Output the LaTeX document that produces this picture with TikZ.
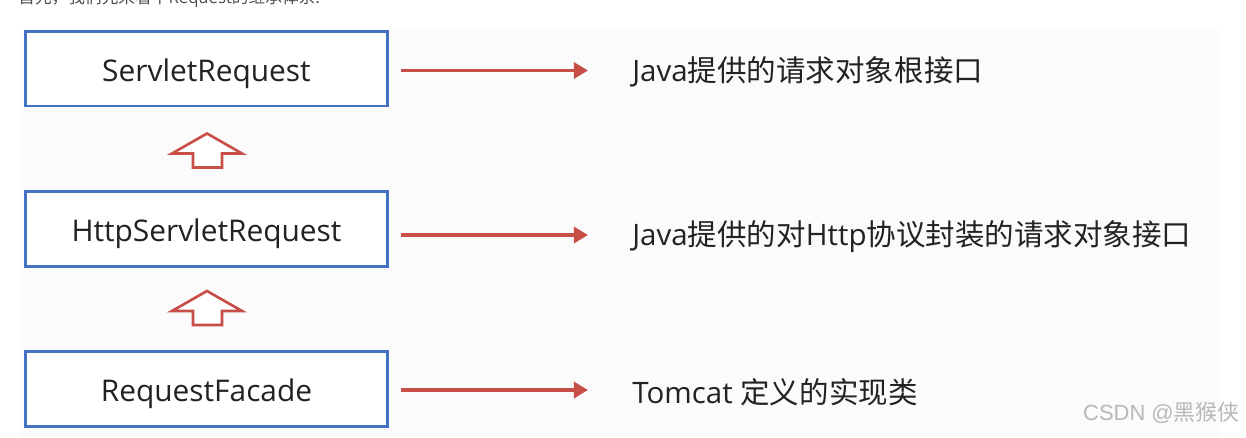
\documentclass[tikz,border=0pt]{standalone}
\usepackage{fontspec}
\setmainfont{Open Sans}
\newfontfamily\cjk{Noto Sans CJK SC}
\newfontfamily\markfont{Liberation Sans}
\usetikzlibrary{positioning,calc,arrows.meta}

\definecolor{boxblue}{RGB}{68,114,196}
\definecolor{arrred}{RGB}{200,78,72}
\definecolor{txtgray}{RGB}{34,34,34}

\tikzset{
  classbox/.style={draw=boxblue, line width=1.7pt, fill=white, minimum width=7.26cm, minimum height=1.5cm,
    text height=0.64cm, text depth=0.13cm, text=txtgray, font=\fontsize{17pt}{19pt}\selectfont},
  desc/.style={anchor=west, inner sep=0pt, text=txtgray, font=\fontsize{16.8pt}{19pt}\selectfont},
  redarrow/.style={draw=arrred, line width=2pt, -{Triangle[length=8pt,width=9pt]}},
  hollow/.style={draw=arrred, line width=1.5pt, fill=white, line join=miter}
}

\begin{document}
\begin{tikzpicture}[x=0.02cm,y=-0.02cm]
  \useasboundingbox (0,0) rectangle (1246,437);
  % background
  \fill[black!1.5] (20,29) rectangle (1220,437);
  % cut caption line
  \begin{scope}
    \clip (0,0) rectangle (1246,11);
    \node[anchor=base west, inner sep=0pt, text=black!70, font=\fontsize{9.5pt}{11pt}\selectfont] (caption) at (18,3)
      {\cjk 首先，我们先来看下\rmfamily Request\cjk 的继承体系:};
  \end{scope}

  % classes
  \node[classbox] (servlet) at (206.5,68.5) {ServletRequest};
  \node[classbox] (http) at (206.5,229) {HttpServletRequest};
  \node[classbox] (facade) at (206.5,389) {RequestFacade};

  % descriptions
  \node[desc] (d1) at (632,72) {Java\cjk 提供的请求对象根接口};
  \node[desc] (d2) at (632,237) {Java\cjk 提供的对\rmfamily Http\cjk 协议封装的请求对象接口};
  \node[desc] (d3) at (632,392) {Tomcat \cjk 定义的实现类};

  % red arrows
  \draw[redarrow, shorten <=0.24cm, shorten >=0.88cm] ([yshift=-0.04cm]servlet.east) -- ([yshift=-0.04cm]servlet.east -| d1.west);
  \draw[redarrow, shorten <=0.24cm, shorten >=0.88cm] ([yshift=-0.12cm]http.east) -- ([yshift=-0.12cm]http.east -| d2.west);
  \draw[redarrow, shorten <=0.24cm, shorten >=0.88cm] ([yshift=-0.02cm]facade.east) -- ([yshift=-0.02cm]facade.east -| d3.west);

  % hollow up arrows
  \coordinate (tip1) at ($(servlet.south)+(0.5,26)$);
  \coordinate (tip2) at ($(http.south)+(0.5,23)$);
  \foreach \t in {tip1,tip2} {
    \draw[hollow] (\t) -- ++(35,20) -- ++(-20,0) -- ++(0,14) -- ++(-29,0) -- ++(0,-14) -- ++(-21,0) -- cycle;
  }

  % watermark
  \node[anchor=east, inner sep=0pt, text=black!28, font=\fontsize{12.5pt}{14pt}\selectfont] (mark) at (1240,413)
    {\markfont CSDN @\cjk 黑猴侠};
\end{tikzpicture}
\end{document}
